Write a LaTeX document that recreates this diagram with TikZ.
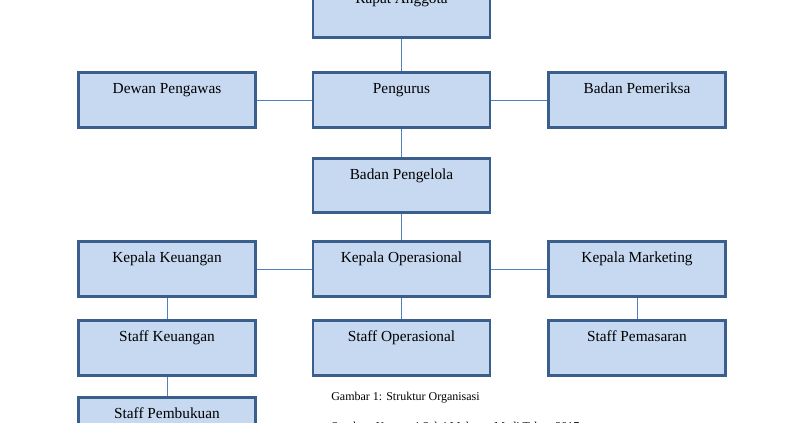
\documentclass[tikz,border=0pt]{standalone}
\usepackage{fontspec}
\setmainfont{Liberation Serif}
\begin{document}
\begin{tikzpicture}[x=0.75pt,y=-0.75pt,
 box/.style={draw=boxline,line width=2.2pt,fill=boxfill,minimum width=177*0.75pt,inner xsep=2pt,inner ysep=6pt,text height=10pt,text depth=19pt,font=\fontsize{11.5}{13}\selectfont},
 con/.style={draw=conline,line width=0.7pt}]
\definecolor{boxfill}{HTML}{C6D9F1}
\definecolor{boxline}{HTML}{3A5F8D}
\definecolor{conline}{HTML}{4F81BD}
\useasboundingbox (0,0) rectangle (806,423);
\clip (0,0) rectangle (806,423);
\node[box] (ra) at (401.5,10) {Rapat Anggota};
\node[box] (dp) at (167,100) {Dewan Pengawas};
\node[box] (pg) at (401.5,100) {Pengurus};
\node[box] (bp) at (637,100) {Badan Pemeriksa};
\node[box] (bl) at (401.5,185.5) {Badan Pengelola};
\node[box] (kk) at (167,269) {Kepala Keuangan};
\node[box] (ko) at (401.5,269) {Kepala Operasional};
\node[box] (km) at (637,269) {Kepala Marketing};
\node[box] (sk) at (167,348) {Staff Keuangan};
\node[box] (so) at (401.5,348) {Staff Operasional};
\node[box] (sp) at (637,348) {Staff Pemasaran};
\node[box] (sb) at (167,425) {Staff Pembukuan};
\draw[con] (ra) -- (pg);
\draw[con] (dp) -- (pg);
\draw[con] (pg) -- (bp);
\draw[con] (pg) -- (bl);
\draw[con] (bl) -- (ko);
\draw[con] (kk) -- (ko);
\draw[con] (ko) -- (km);
\draw[con] (kk) -- (sk);
\draw[con] (sk) -- (sb);
\draw[con] (ko) -- (so);
\draw[con] (km) -- (sp);
\node[anchor=west,font=\fontsize{9}{11}\selectfont,inner sep=0] (cap) at (331,398) {Gambar 1: Struktur Organisasi};
\node[anchor=west,font=\fontsize{9}{11}\selectfont,inner sep=0] (src) at (331,428) {Sumber: Koperasi Sakti Makmur Medi Tahun 2017};
\end{tikzpicture}
\end{document}
